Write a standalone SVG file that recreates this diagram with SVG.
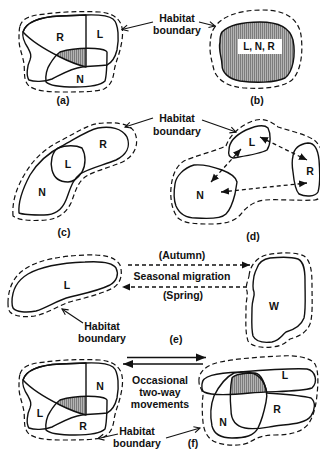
<svg xmlns="http://www.w3.org/2000/svg" xmlns:xlink="http://www.w3.org/1999/xlink" width="320" height="453" viewBox="0 0 320 453">
<style>
.s{fill:none;stroke:#111;stroke-width:1.4;stroke-linejoin:round}
.d{fill:none;stroke:#111;stroke-width:1.2;stroke-dasharray:5 3}
.da{fill:none;stroke:#111;stroke-width:1.3;stroke-dasharray:4 3}
.ar{fill:none;stroke:#111;stroke-width:1.1}
.sa{fill:none;stroke:#111;stroke-width:1.6}
.t{font-family:"Liberation Sans",Arial,sans-serif;font-weight:bold;font-size:10.5px;text-anchor:middle;fill:#111}
</style>
<defs>
<pattern id="hatch" width="2" height="2" patternUnits="userSpaceOnUse"><rect width="2" height="2" fill="#b4b4b4"/><rect width="1" height="2" fill="#7c7c7c"/></pattern>
<marker id="open" markerUnits="userSpaceOnUse" markerWidth="9" markerHeight="9" refX="7" refY="4" orient="auto"><path d="M1,1 L7,4 L1,7" fill="none" stroke="#111" stroke-width="1.1"/></marker>
<marker id="tri" markerUnits="userSpaceOnUse" markerWidth="9" markerHeight="9" refX="8" refY="4" orient="auto-start-reverse"><path d="M0,0.5 L8,4 L0,7.5 z" fill="#111"/></marker>
<marker id="tri2" markerUnits="userSpaceOnUse" markerWidth="11" markerHeight="10" refX="10" refY="4.5" orient="auto"><path d="M0,0.5 L10,4.5 L0,8.5 z" fill="#111"/></marker>
<path id="aR" d="M23,32 C26,22 40,17 60,16 C70,15.6 80,15.2 86,15 L86,67 C78,65 70,62 60,57 C48,51 33,43 23,32 Z"/>
<path id="aL" d="M23,32 C26,22 40,17 60,16 C70,15.6 80,15.2 86,15 C98,14.6 108,15 113,19 C119,24 119,40 117,50 C115,58 111,63 107,65 C98,66 88,66 82,67 C72,68 62,74 52,79 C44,82 34,82 29,80 C26,76 27,66 30,60 C32,55 30,52 28,48 C24,42 22,37 23,32 Z"/>
<path id="aN" d="M60,52 C70,49 85,48 95,48.5 C102,49 106,50 107,52 C107,62 107,74 105,81 C100,86 88,87 75,87 C60,87 50,86 46,82 C45,76 47,68 50,64 C53,59 56,55 60,52 Z"/>
<path id="aD" d="M20,26 C22,18 32,15 45,14 C60,12 80,11 100,12 C110,13 117,16 121,24 C124,32 122,42 120,50 C118,58 115,64 114,72 C113,80 110,86 104,89 C96,92 80,92 62,92 C48,92 36,91 29,86 C23,80 25,72 24,64 C23,56 19,48 19,40 C19,34 19,30 20,26 Z"/>
<clipPath id="clipAR"><use xlink:href="#aR"/></clipPath>
<path id="fL" d="M202,384 C202,376 215,373 240,372 C265,370 290,368 307,369 C316,371 318,382 312,388 C300,392 275,391 250,393 C230,395 212,396 204,392 C201,390 202,387 202,384 Z"/>
<path id="fN" d="M214,396 C218,388 224,378 234,373 C245,371 255,372 260,378 C266,384 268,394 266,402 C264,412 262,420 258,428 C254,436 245,438 232,438 C220,438 214,434 212,426 C210,416 211,404 214,396 Z"/>
<path id="fR" d="M232,378 C235,374 245,373 255,373 C262,374 265,385 267,393 C280,394 300,395 311,398 C316,402 315,410 311,416 C305,424 290,424 275,426 C262,428 255,430 245,428 C235,426 231,420 231,410 C230,400 230,388 232,378 Z"/>
<clipPath id="clipFL"><use xlink:href="#fL"/></clipPath>
<clipPath id="clipFR"><use xlink:href="#fR"/></clipPath>
<g id="trio">
<use xlink:href="#aN" fill="url(#hatch)" clip-path="url(#clipAR)"/>
<use xlink:href="#aL" class="s"/>
<use xlink:href="#aR" class="s"/>
<use xlink:href="#aN" class="s"/>
<use xlink:href="#aD" class="d"/>
</g>
</defs>

<g id="panel-a">
<use xlink:href="#trio"/>
<text class="t" x="60" y="41">R</text>
<text class="t" x="100" y="38">L</text>
<text class="t" x="80" y="83">N</text>
<text class="t" x="63" y="104">(a)</text>
</g>

<g id="panel-b">
<path class="d" d="M213,30 C220,16 240,10 262,10 C285,10 298,18 301,35 C303,50 302,70 292,80 C282,88 262,89 245,88 C228,87 217,80 214,70 C212,62 210,55 210,48 C210,40 211,34 213,30 Z"/>
<path class="s" fill="url(#hatch)" style="fill:url(#hatch)" d="M222,32 C230,24 245,22 260,22 C280,22 290,28 293,40 C296,55 293,72 285,78 C275,83 255,83 240,81 C228,79 222,72 222,65 C222,58 218,50 220,42 C220,37 220,35 222,32 Z"/>
<rect x="238" y="39" width="44" height="15" fill="#fff"/>
<text class="t" x="259" y="50" style="font-size:10px">L, N, R</text>
<text class="t" x="257" y="104">(b)</text>
</g>

<g id="label-hb1">
<text class="t" x="177" y="21.5">Habitat</text>
<text class="t" x="177" y="33.5">boundary</text>
</g>

<g id="panel-c">
<path class="d" d="M13,216 C12,202 16,188 26,172 C35,157 48,147 60,141 C74,134 87,125 98,123.5 C112,122 130,122 135,133 C140,146 133,158 120,163 C108,168 94,171 85,177 C77,183 75,193 71,203 C66,213 58,219 46,220 C34,221 20,221 13,216 Z"/>
<path class="s" d="M19,213 C18,202 22,190 30,175 C38,162 50,152 62,146 C75,139 88,130 98,128 C110,126 122,128 127,137 C131,147 126,155 116,160 C104,165 90,168 80,174 C72,180 70,190 66,200 C62,210 55,215 44,215 C34,215 24,215 19,213 Z"/>
<path class="s" d="M58,148 C66,145 76,145 82,148 C86,155 86,165 82,172 C78,178 74,182 68,182 C60,182 54,178 52,170 C50,162 52,152 58,148 Z"/>
<text class="t" x="68" y="168">L</text>
<text class="t" x="103" y="148">R</text>
<text class="t" x="42" y="196">N</text>
<text class="t" x="64" y="236">(c)</text>
</g>

<g id="label-hb2">
<text class="t" x="177" y="122">Habitat</text>
<text class="t" x="177" y="134.5">boundary</text>
</g>

<g id="panel-d">
<path class="d" d="M226,146 C230,134 242,124 256,120 C265,118 272,122 278,127 C290,131 305,134 314,140 C322,146 326,160 326,175 C326,190 324,198 315,200 C300,201 280,199 265,200 C255,201 247,206 241,214 C235,221 226,224 212,224 C198,224 185,224 178,218 C172,211 170,198 171,188 C172,176 176,166 184,161 C195,156 212,152 226,146 Z"/>
<path class="s" d="M229,150 C229,142 236,135 246,130 C255,126 264,124 268,128 C271,134 271,144 267,150 C260,154 245,156 233,158 C229,157 228,154 229,150 Z"/>
<path class="s" d="M293,156 C294,148 300,144 308,143 C315,143 318,150 319,160 C320,172 320,185 318,192 C315,197 305,197 299,194 C295,190 294,182 293,172 C292,166 292,160 293,156 Z"/>
<path class="s" d="M175,184 C176,176 184,168 194,165 C205,164 214,167 222,170 C230,173 236,177 237,182 L235,194 C233,202 230,210 226,214 C222,218 210,219 196,218 C186,218 179,213 176,206 C173,198 174,190 175,184 Z"/>
<text class="t" x="252" y="146">L</text>
<text class="t" x="310" y="175">R</text>
<text class="t" x="200" y="199">N</text>
<text class="t" x="253" y="240">(d)</text>
</g>

<g id="panel-e">
<path class="d" d="M8,303 C8,288 14,276 25,269 C38,260 60,256 85,255 C102,254.5 115,256 120,265 C123,274 121,283 113,288 C101,294 85,298 73,301 C61,304 52,311 39,315 C28,318 15,317 10,312 C8,309 8,306 8,303 Z"/>
<path class="s" d="M12,302 C12,290 18,280 28,274 C40,267 60,263 85,262 C100,261 112,262 116,268 C119,274 117,281 110,285 C98,291 82,294 70,297 C58,300 48,307 36,311 C26,313 16,312 13,308 C12,306 12,304 12,302 Z"/>
<path class="d" d="M249,276 C250,266 256,258 266,255 C280,252 296,252 304,256 C311,261 312,272 312,285 C312,300 313,315 310,324 C306,334 297,337 290,339 C285,343 282,346 272,347 C262,348 252,347 248,341 C245,332 246,320 246,308 C246,300 248,296 247,291 C245,286 248,281 249,276 Z"/>
<path class="s" d="M257,268 C259,262 264,259 270,258 C280,257 292,257 298,259 C304,262 305,270 305,280 C305,295 306,310 304,318 C301,326 293,330 286,332 C281,336 280,340 272,342 C264,343 256,342 253,336 C251,328 252,318 252,308 C252,300 255,296 254,292 C252,288 253,282 254,276 C255,272 256,270 257,268 Z"/>
<text class="t" x="67" y="289">L</text>
<text class="t" x="274" y="310">W</text>
<text class="t" x="182" y="259">(Autumn)</text>
<text class="t" x="182" y="280">Seasonal migration</text>
<text class="t" x="183" y="299">(Spring)</text>
<text class="t" x="102" y="330">Habitat</text>
<text class="t" x="102" y="342">boundary</text>
<text class="t" x="176" y="343">(e)</text>
</g>

<g id="panel-f-left" transform="translate(0,348)">
<use xlink:href="#trio"/>
<text class="t" x="100" y="42">N</text>
<text class="t" x="40" y="69">L</text>
<text class="t" x="83" y="82">R</text>
</g>

<g id="panel-f-right">
<g clip-path="url(#clipFL)"><g clip-path="url(#clipFR)"><use xlink:href="#fN" fill="url(#hatch)"/></g></g>
<use xlink:href="#fL" class="s"/>
<use xlink:href="#fN" class="s"/>
<use xlink:href="#fR" class="s"/>
<path class="d" d="M199,382 C198,372 206,365 220,362 C240,358 262,357 280,356 C295,355 310,357 315,364 C319,372 318,385 317,395 C316,405 314,415 309,423 C303,432 290,435 275,435 C263,435 256,438 250,442 C243,446 228,446 218,443 C208,440 204,432 203,422 C202,412 202,402 203,396 C203,390 199,387 199,382 Z"/>
<text class="t" x="285" y="379">L</text>
<text class="t" x="277" y="413">R</text>
<text class="t" x="223" y="426">N</text>
</g>

<g id="label-f">
<text class="t" x="160" y="384">Occasional</text>
<text class="t" x="160" y="396">two-way</text>
<text class="t" x="160" y="408">movements</text>
<text class="t" x="137" y="435">Habitat</text>
<text class="t" x="137" y="447">boundary</text>
<text class="t" x="193" y="447">(f)</text>
</g>

<g id="connectors">
<line class="ar" x1="153" y1="22" x2="122" y2="29.5" marker-end="url(#open)"/>
<line class="ar" x1="199" y1="22" x2="215" y2="26" marker-end="url(#open)"/>
<line class="ar" x1="153" y1="118" x2="125" y2="127" marker-end="url(#open)"/>
<line class="ar" x1="202" y1="120" x2="236" y2="132" marker-end="url(#open)"/>
<line class="da" x1="241" y1="149" x2="211" y2="182" marker-start="url(#tri)" marker-end="url(#tri)"/>
<line class="da" x1="260" y1="137" x2="307" y2="160" marker-start="url(#tri)" marker-end="url(#tri)"/>
<line class="da" x1="221" y1="192" x2="307" y2="183" marker-start="url(#tri)" marker-end="url(#tri)"/>
<line class="da" x1="128" y1="265" x2="250" y2="265" marker-end="url(#tri)"/>
<line class="da" x1="247" y1="287" x2="122" y2="287" marker-end="url(#tri)"/>
<line class="ar" x1="83" y1="323" x2="62" y2="309" marker-end="url(#open)"/>
<line class="sa" x1="127" y1="357.5" x2="206" y2="357.5" marker-end="url(#tri2)"/>
<line class="sa" x1="203" y1="364" x2="123" y2="364" marker-end="url(#tri2)"/>
<line class="ar" x1="118" y1="434" x2="98" y2="438.5" marker-end="url(#open)"/>
<line class="ar" x1="166" y1="438" x2="200" y2="428" marker-end="url(#open)"/>
</g>
</svg>
